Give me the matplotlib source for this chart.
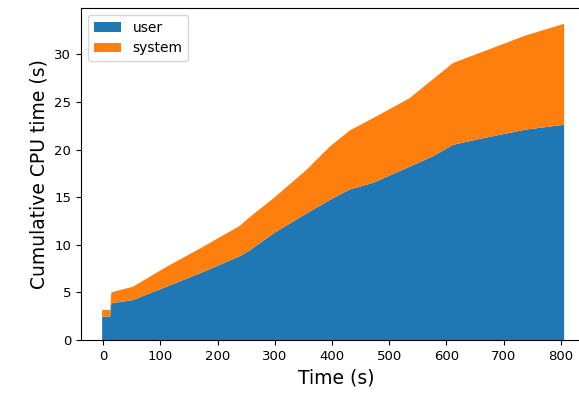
import numpy as np
import matplotlib
matplotlib.use("Agg")
import matplotlib.pyplot as plt

# Cumulative CPU time
time_s = [-2, 12, 14, 52, 111, 169, 239, 256, 298, 356, 396, 431, 472, 536, 577, 612, 665, 740, 806]
user = [2.45, 2.45, 3.85, 4.2, 5.6, 7.0, 8.8, 9.4, 11.2, 13.3, 14.7, 15.8, 16.5, 18.2, 19.3, 20.5, 21.2, 22.1, 22.6]
system = [0.71, 0.71, 1.15, 1.4, 2.1, 2.6, 3.2, 3.5, 3.7, 4.6, 5.6, 6.2, 6.8, 7.2, 8.1, 8.6, 9.1, 9.9, 10.6]
labels = ["user", "system"]

fig = plt.figure(figsize=(5.79, 3.94), dpi=100)
# the right spine falls just past the edge of the picture, as in the original crop
ax = fig.add_axes([81 / 579, 1 - 340 / 394, 510 / 579, 332 / 394])

ax.stackplot(time_s, user, system, labels=labels, colors=["#1f77b4", "#ff7f0e"])
ax.set_xlim(-39, 853)
ax.set_xticks(np.arange(0, 801, 100))
ax.set_yticks(np.arange(0, 31, 5))
ax.tick_params(labelsize=9.5)
ax.set_xlabel("Time (s)", fontsize=13.5)
ax.set_ylabel("Cumulative CPU time (s)", fontsize=13.5)
ax.legend(loc="upper left", fontsize=10)

fig.savefig("out.png", dpi=100)
